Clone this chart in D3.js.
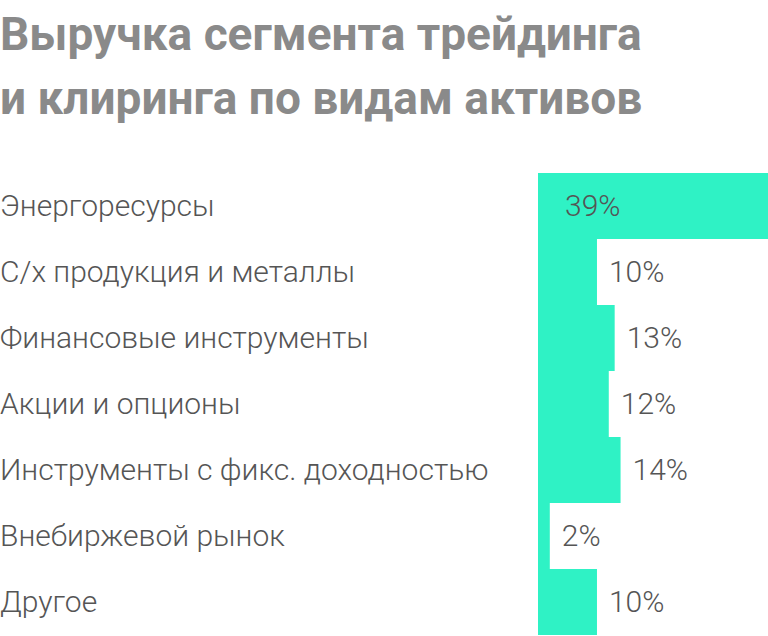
<!DOCTYPE html>
<html><head><meta charset="utf-8">
<script src="https://cdn.jsdelivr.net/npm/d3@7"></script>
<style>body{margin:0;background:#fff}</style>
</head><body>
<div id="chart"></div>
<script>
const categories = ["Энергоресурсы","С/х продукция и металлы","Финансовые инструменты","Акции и опционы","Инструменты с фикс. доходностью","Внебиржевой рынок","Другое"];
const values = [39, 10, 13, 12, 14, 2, 10];
const titleLines = ["Выручка сегмента трейдинга","и клиринга по видам активов"];

const W = 768, H = 636;
const svg = d3.select("#chart").append("svg").attr("width", W).attr("height", H);

svg.selectAll(".title").data(titleLines).enter().append("text")
  .attr("x", 0).attr("y", (d, i) => 50 + i * 64)
  .attr("font-family", "Roboto, sans-serif").attr("font-weight", "bold")
  .attr("font-size", 46).attr("fill", "#8a8a8a").text(d => d);

const x = d3.scaleLinear().domain([0, 39]).range([538, 768]);
const y = d3.scaleBand().domain(categories).range([173, 635]).padding(0);

svg.selectAll(".bar").data(values).enter().append("rect")
  .attr("x", x(0)).attr("y", (d, i) => y(categories[i]))
  .attr("width", d => x(d) - x(0)).attr("height", y.bandwidth())
  .attr("fill", "#2ff2c5");

svg.selectAll(".cat").data(categories).enter().append("text")
  .attr("x", 0).attr("y", d => y(d) + y.bandwidth() / 2 + 10)
  .attr("font-family", "Roboto, sans-serif").attr("font-weight", 300)
  .attr("font-size", 30).attr("fill", "#555").text(d => d);

svg.selectAll(".val").data(values).enter().append("text")
  .attr("x", d => x(d) + 70 > W ? x(0) + 27 : x(d) + 12)
  .attr("y", (d, i) => y(categories[i]) + y.bandwidth() / 2 + 10)
  .attr("font-family", "Roboto, sans-serif").attr("font-weight", 300)
  .attr("font-size", 30).attr("fill", "#555").text(d => d + "%");
</script>
</body></html>
